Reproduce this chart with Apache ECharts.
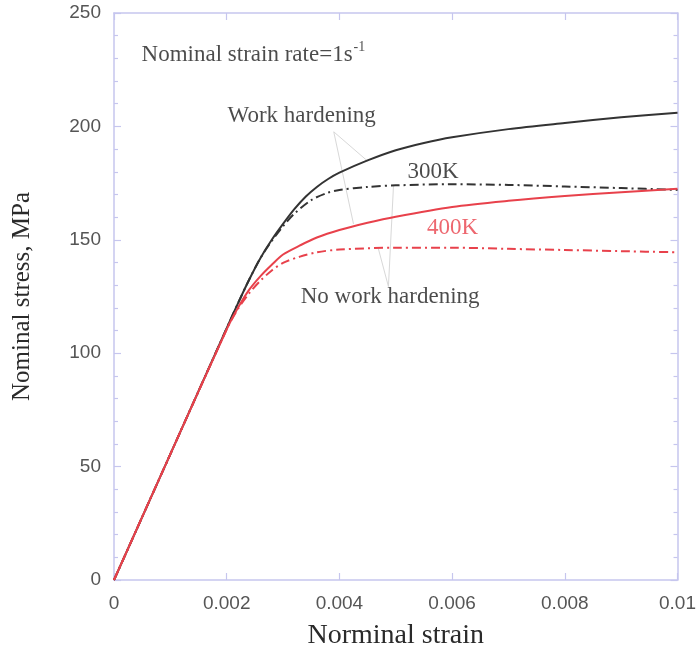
<!DOCTYPE html>
<html>
<head>
<meta charset="utf-8">
<script src="https://cdn.jsdelivr.net/npm/echarts@6/dist/echarts.min.js"></script>
<style>
  html, body { margin: 0; padding: 0; background: #ffffff; }
  #chart { width: 699px; height: 655px; }
</style>
</head>
<body>
<div id="chart"></div>
<script>
// Nominal strain / stress (MPa) sample points for each curve
const strain300WH = [0, 0.001, 0.002, 0.0022, 0.0024, 0.0026, 0.0028, 0.003, 0.0032, 0.0034, 0.0036, 0.0038, 0.004, 0.0045, 0.005, 0.0055, 0.006, 0.007, 0.008, 0.009, 0.01];
const stress300WH = [0, 55.5, 111, 122, 132.5, 142, 150, 157, 163.5, 169, 173.3, 176.8, 179.6, 185, 189.5, 192.7, 195.2, 198.8, 201.5, 204, 206];

const strain300NWH = [0, 0.001, 0.002, 0.0022, 0.0024, 0.0026, 0.0028, 0.003, 0.0032, 0.0035, 0.0038, 0.004, 0.0045, 0.005, 0.006, 0.007, 0.008, 0.009, 0.01];
const stress300NWH = [0, 55.5, 111, 122, 132.5, 142, 149.5, 156, 161.5, 167.5, 170.8, 172, 173.3, 174, 174.5, 174.2, 173.5, 172.8, 172];

const strain400WH = [0, 0.001, 0.002, 0.0022, 0.0024, 0.0026, 0.0028, 0.003, 0.0033, 0.0036, 0.004, 0.0045, 0.005, 0.006, 0.007, 0.008, 0.009, 0.01];
const stress400WH = [0, 55.5, 110.5, 120, 128, 134, 139, 143.5, 147.5, 151, 154.3, 157.5, 160.2, 164.5, 167.2, 169.3, 171, 172.5];

const strain400NWH = [0, 0.001, 0.002, 0.0022, 0.0024, 0.0026, 0.0028, 0.003, 0.0033, 0.0036, 0.004, 0.005, 0.006, 0.007, 0.008, 0.009, 0.01];
const stress400NWH = [0, 55.5, 110.5, 119.5, 126.5, 132, 136.5, 139.8, 142.6, 144.5, 145.7, 146.5, 146.5, 146, 145.5, 145, 144.5];

// Axis tick values
const xTicks = [0, 0.002, 0.004, 0.006, 0.008, 0.01];
const yTicks = [0, 50, 100, 150, 200, 250];

// Leader lines for the annotations, in (strain, stress)
const leaderWH = [[[0.0039, 197.6], [0.00451, 184.5]], [[0.0039, 197.6], [0.00425, 157]]];
const leaderNWH = [[[0.00487, 129.4], [0.00496, 174]], [[0.00487, 129.4], [0.00469, 146.2]]];

// Annotation anchors, in (strain, stress)
const noteRate = [0.00049, 231.5];
const noteWH = [0.00333, 204.7];
const note300 = [0.00566, 180];
const note400 = [0.00601, 155.4];
const noteNWH = [0.0049, 124.6];

const zip = (xs, ys) => xs.map((x, i) => [x, ys[i]]);

const serif = 'Liberation Serif';
const frameColor = '#c6c6ee';
const textColor = '#1e1e1e';
const red = '#e8414b';
const dashDot = [9, 4, 2, 4];

const chart = echarts.init(document.getElementById('chart'), null, { renderer: 'canvas' });

const axisCommon = {
  type: 'value',
  axisLine: { show: true, onZero: false, lineStyle: { color: frameColor, width: 1.5 } },
  axisTick: { show: true, inside: true, length: 7, lineStyle: { color: frameColor, width: 1.2 } },
  splitLine: { show: false }
};

function leaderSeries(name, segs) {
  return {
    name: name,
    type: 'lines',
    coordinateSystem: 'cartesian2d',
    silent: true,
    z: 1,
    lineStyle: { color: '#d8d8d8', width: 1, opacity: 1 },
    data: segs.map(s => ({ coords: s }))
  };
}

function curve(name, xs, ys, color, type, z) {
  return {
    name: name, type: 'line', data: zip(xs, ys),
    smooth: 0.3, showSymbol: false, z: z,
    lineStyle: { color: color, width: 2, type: type }
  };
}

function note(pos, text, color) {
  return {
    value: pos,
    label: {
      show: true, position: 'inside', distance: 0,
      formatter: text, color: color, fontFamily: serif, fontSize: 23
    }
  };
}

const option = {
  animation: false,
  backgroundColor: '#ffffff',
  grid: { left: 114, right: 18, top: 13, bottom: 74 },
  xAxis: [
    Object.assign({}, axisCommon, {
      position: 'bottom',
      min: xTicks[0], max: xTicks[xTicks.length - 1], interval: 0.002,
      name: 'Norminal strain',
      nameLocation: 'middle',
      nameGap: 42,
      nameTextStyle: { fontFamily: serif, fontSize: 28, color: '#2a2a2a' },
      axisLabel: {
        margin: 14, fontFamily: 'Liberation Sans', fontSize: 19, color: '#555',
        formatter: v => String(+v.toFixed(3))
      }
    }),
    Object.assign({}, axisCommon, {
      position: 'top',
      min: xTicks[0], max: xTicks[xTicks.length - 1], interval: 0.002,
      axisLabel: { show: false }
    })
  ],
  yAxis: [
    Object.assign({}, axisCommon, {
      position: 'left',
      min: yTicks[0], max: yTicks[yTicks.length - 1], interval: 50,
      name: 'Nominal stress, MPa',
      nameLocation: 'middle',
      nameGap: 79,
      nameTextStyle: { fontFamily: serif, fontSize: 25, color: '#2a2a2a' },
      minorTick: { show: true, splitNumber: 5, length: 4, lineStyle: { color: frameColor, width: 1.2 } },
      axisLabel: { margin: 13, fontFamily: 'Liberation Sans', fontSize: 19, color: '#555' }
    }),
    Object.assign({}, axisCommon, {
      position: 'right',
      min: yTicks[0], max: yTicks[yTicks.length - 1], interval: 50,
      minorTick: { show: true, splitNumber: 5, length: 4, lineStyle: { color: frameColor, width: 1.2 } },
      axisLabel: { show: false }
    })
  ],
  series: [
    leaderSeries('leader-wh', leaderWH),
    leaderSeries('leader-nwh', leaderNWH),
    curve('300K work hardening', strain300WH, stress300WH, '#333333', 'solid', 3),
    curve('300K no work hardening', strain300NWH, stress300NWH, '#333333', dashDot, 3),
    curve('400K work hardening', strain400WH, stress400WH, red, 'solid', 4),
    curve('400K no work hardening', strain400NWH, stress400NWH, red, dashDot, 4),
    {
      name: 'notes', type: 'scatter', symbolSize: 0, silent: true, z: 5,
      data: [
        {
          value: noteRate,
          label: {
            show: true, position: 'right', distance: 0,
            formatter: '{a|Nominal strain rate=1s}{b|-1}',
            rich: {
              a: { fontFamily: serif, fontSize: 23, color: textColor },
              b: { fontFamily: serif, fontSize: 14, color: textColor, padding: [0, 0, 15, 1] }
            }
          }
        },
        note(noteWH, 'Work hardening', textColor),
        note(note300, '300K', textColor),
        note(note400, '400K', red),
        note(noteNWH, 'No work hardening', textColor)
      ]
    }
  ]
};

chart.setOption(option);
</script>
</body>
</html>
